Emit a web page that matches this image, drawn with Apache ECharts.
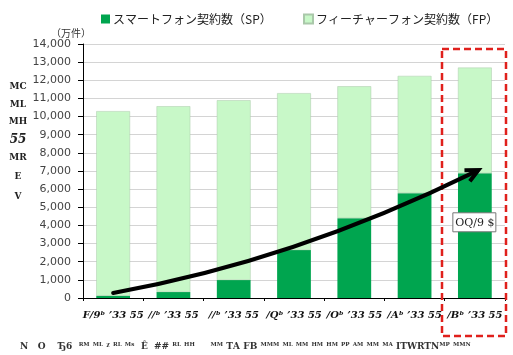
<!DOCTYPE html>
<html><head><meta charset="utf-8">
<script src="https://cdn.jsdelivr.net/npm/echarts@6/dist/echarts.min.js"></script>
<style>html,body{margin:0;padding:0;background:#fff}#c{width:513px;height:355px}</style>
</head><body><div id="c"></div>
<script>
const categories = ["F/9ᵇ ʼ33 55", "//ᵇ ʼ33 55", "//ᵇ ʼ33 55", "/Qᵇ ʼ33 55", "/Oᵇ ʼ33 55", "/Aᵇ ʼ33 55", "/Bᵇ ʼ33 55"];
const spValues = [120, 330, 990, 2640, 4400, 5780, 6870];
const fpValues = [10180, 10240, 9910, 8650, 7270, 6460, 5830];
const seriesNames = ["スマートフォン契約数（SP）", "フィーチャーフォン契約数（FP）"];
const arrowStart = [0.03, 280];
const arrowControl = [3.3, 2050];
const arrowEnd = [5.68, 6950];
const sideText = ["MC", "ML", "MH", "55", "MR", "E", "V"];
const noteText = "N   O    Ђ6  ᴿᴹ ᴹᴸ ᵡ ᴿᴸ ᴹˢ  Ê  ## ᴿᴸ ᴴᴴ     ᴹᴹ ТА FB ᴹᴹᴹ ᴹᴸ ᴹᴹ ᴴᴹ ᴴᴹ ᴾᴾ ᴬᴹ ᴹᴹ ᴹᴬ ITWRTNᴹᴾ ᴹᴹᴺ";
const boxText = "OQ/9 $";

const chart = echarts.init(document.getElementById('c'));
const font = '"Noto Sans CJK JP", sans-serif';
const legendBase = { top: 8, itemWidth: 9, itemHeight: 9, itemGap: 4, icon: 'rect',
  textStyle: { fontFamily: font, fontSize: 12, color: '#222', padding: [0, 0, 0, -2] } };
chart.setOption({
  animation: false,
  legend: [
    Object.assign({}, legendBase, { left: 96, data: [seriesNames[0]] }),
    Object.assign({}, legendBase, { left: 298, data: [seriesNames[1]] })
  ],
  grid: { left: 83, right: 8, top: 44, bottom: 57 },
  xAxis: {
    type: 'category', data: categories,
    axisLine: { lineStyle: { color: '#000', width: 1 } },
    axisTick: { show: true, alignWithLabel: false, length: 3, lineStyle: { color: '#000' } },
    axisLabel: { fontFamily: 'DejaVu Serif', fontSize: 10, fontWeight: 'bold', fontStyle: 'italic', color: '#111', margin: 12, interval: 0 }
  },
  yAxis: {
    type: 'value', min: 0, max: 14000, interval: 1000,
    name: '（万件）', nameGap: 4,
    nameTextStyle: { fontFamily: font, fontSize: 10, color: '#333', align: 'right', padding: [0, -8, 0, 0] },
    axisLine: { show: true, lineStyle: { color: '#000' } },
    axisTick: { show: true, length: 5, lineStyle: { color: '#000' } },
    axisLabel: { fontFamily: 'DejaVu Sans', fontSize: 11, color: '#444', margin: 12,
      formatter: v => v.toLocaleString('en-US') },
    splitLine: { lineStyle: { color: '#d4d4d4' } }
  },
  series: [
    { name: seriesNames[0], type: 'bar', stack: 't', data: spValues, barWidth: '56%',
      itemStyle: { color: '#00a54f' } },
    { name: seriesNames[1], type: 'bar', stack: 't', data: fpValues, barWidth: '56%',
      itemStyle: { color: '#c8f8c8', borderColor: '#aac8aa', borderWidth: 0.5 } }
  ]
});

const p0 = chart.convertToPixel({ gridIndex: 0 }, arrowStart);
const p1 = chart.convertToPixel({ gridIndex: 0 }, arrowControl);
const p2 = chart.convertToPixel({ gridIndex: 0 }, arrowEnd);
const ang = Math.atan2(p2[1] - p1[1], p2[0] - p1[0]);
const tip = [p2[0] + 4 * Math.cos(ang), p2[1] + 4 * Math.sin(ang)];
const hl = 14, hw = 0.45;
const wing1 = [tip[0] - hl * Math.cos(ang - hw), tip[1] - hl * Math.sin(ang - hw)];
const wing2 = [tip[0] - hl * Math.cos(ang + hw), tip[1] - hl * Math.sin(ang + hw)];
const boxPos = chart.convertToPixel({ gridIndex: 0 }, [6, 4200]);
const graphics = [
  { type: 'bezierCurve', shape: { x1: p0[0], y1: p0[1], cpx1: p1[0], cpy1: p1[1], x2: p2[0], y2: p2[1] },
    style: { stroke: '#000', lineWidth: 4, fill: null, lineCap: 'round' }, z: 20 },
  { type: 'polyline', shape: { points: [wing1, tip, wing2] }, style: { stroke: '#000', lineWidth: 4, fill: null, lineJoin: 'miter' }, z: 20 },
  { type: 'rect', shape: { x: 442, y: 49, width: 64, height: 287 }, style: { fill: null, stroke: '#e0201c', lineWidth: 2.5, lineDash: [7, 4] }, z: 15 },
  { type: 'rect', shape: { x: boxPos[0] - 22, y: boxPos[1] - 9, width: 43, height: 19 }, style: { fill: '#fff', stroke: '#777', lineWidth: 1 }, z: 16 },
  { type: 'text', x: boxPos[0], y: boxPos[1] + 1, style: { text: boxText, fontFamily: 'DejaVu Serif', fontSize: 11, fill: '#222', align: 'center', verticalAlign: 'middle' }, z: 17 },
  { type: 'text', x: 20, y: 347, style: { text: noteText, fontFamily: 'DejaVu Serif', fontSize: 9, fontWeight: 'bold', fill: '#333', align: 'left', verticalAlign: 'middle' } }
];
const sideY = [87, 105, 122, 140, 158, 177, 197];
sideText.forEach((t, i) => graphics.push({ type: 'text', x: 18, y: sideY[i],
  style: { text: t, fontFamily: 'DejaVu Serif', fontSize: i === 3 ? 12 : 9, fontWeight: 'bold', fontStyle: i === 3 ? 'italic' : 'normal', fill: '#222', align: 'center', verticalAlign: 'middle' } }));
chart.setOption({ graphic: graphics });
</script></body></html>
